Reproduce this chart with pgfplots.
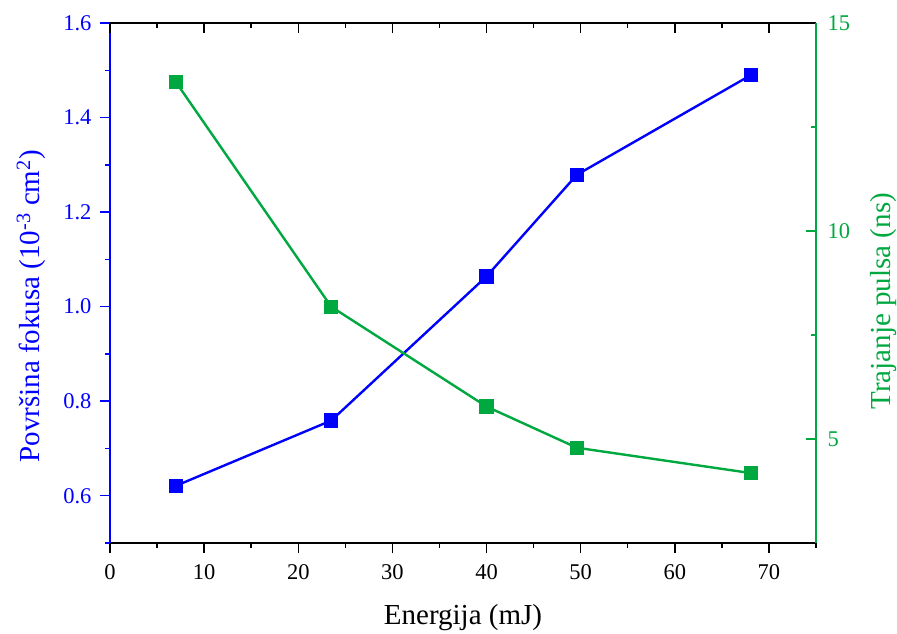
\documentclass[border=0pt]{standalone}
\usepackage{pgfplots}
\pgfplotsset{compat=1.18}
\usepackage{fontspec}
\setmainfont{Liberation Serif}
\definecolor{ogreen}{RGB}{0,168,64}
\definecolor{oblue}{RGB}{0,0,255}
\newcommand{\tfont}{\fontsize{22.5}{26}\selectfont}
\newcommand{\lfont}{\fontsize{29}{34}\selectfont}
\begin{document}
\begin{tikzpicture}
\useasboundingbox (-110pt,-90pt) rectangle (787pt,543pt);
\pgfplotsset{
  common/.style={
    scale only axis, width=706pt, height=520pt,
    xmin=0, xmax=75,
    xtick={0,10,...,70}, minor xtick={5,15,...,75},
    major tick length=10pt, minor tick length=5pt,
    /pgf/number format/assume math mode=true,
    every tick/.style={line width=1.5pt},
    every minor tick/.style={line width=1.5pt},
    clip=false,
  }
}
\begin{axis}[common,
  ymin=0.5, ymax=1.6,
  axis x line*=bottom, axis y line*=left,
  tick align=outside,
  x axis line style={black, line width=1.6pt, -},
  y axis line style={oblue, line width=1.6pt, -},
  ytick={0.6,0.8,...,1.6}, minor ytick={0.5,0.7,...,1.5},
  y tick style={oblue}, x tick style={black},
  xticklabel shift=8pt, yticklabel shift=5pt,
  every x tick label/.append style={font=\tfont},
  every y tick label/.append style={font=\tfont, oblue},
  yticklabel style={/pgf/number format/fixed, /pgf/number format/precision=1, /pgf/number format/fixed zerofill},
  xlabel={Energija (mJ)},
  xlabel style={font=\lfont, at={(axis description cs:0.5,-0.144)}, anchor=center},
  ylabel={Površina fokusa (10\textsuperscript{-3} cm\textsuperscript{2})},
  ylabel style={font=\lfont, oblue, at={(axis description cs:-0.112,0.455)}, anchor=center},
]
\addplot[oblue, line width=2.4pt, mark=square*, mark size=6pt, mark options={solid}]
coordinates {(7.0,0.621) (23.5,0.759) (40.0,1.064) (49.6,1.279) (68.1,1.490)};
\end{axis}
\begin{axis}[common,
  ymin=2.5, ymax=15,
  axis x line*=top, axis y line*=right,
  tick align=inside,
  x axis line style={black, line width=1.6pt, -},
  y axis line style={ogreen, line width=1.6pt, -},
  xticklabels={},
  ytick={5,10,15}, minor ytick={7.5,12.5},
  y tick style={ogreen}, x tick style={black},
  yticklabel shift=8pt,
  every y tick label/.append style={font=\tfont, ogreen},
  ylabel={Trajanje pulsa (ns)},
  ylabel style={font=\lfont, ogreen, at={(axis description cs:1.095,0.465)}, anchor=center, rotate=0},
]
\addplot[ogreen, line width=2.4pt, mark=square*, mark size=6pt, mark options={solid}]
coordinates {(7.0,13.58) (23.5,8.18) (40.0,5.78) (49.6,4.79) (68.1,4.18)};
\end{axis}
\end{tikzpicture}
\end{document}
